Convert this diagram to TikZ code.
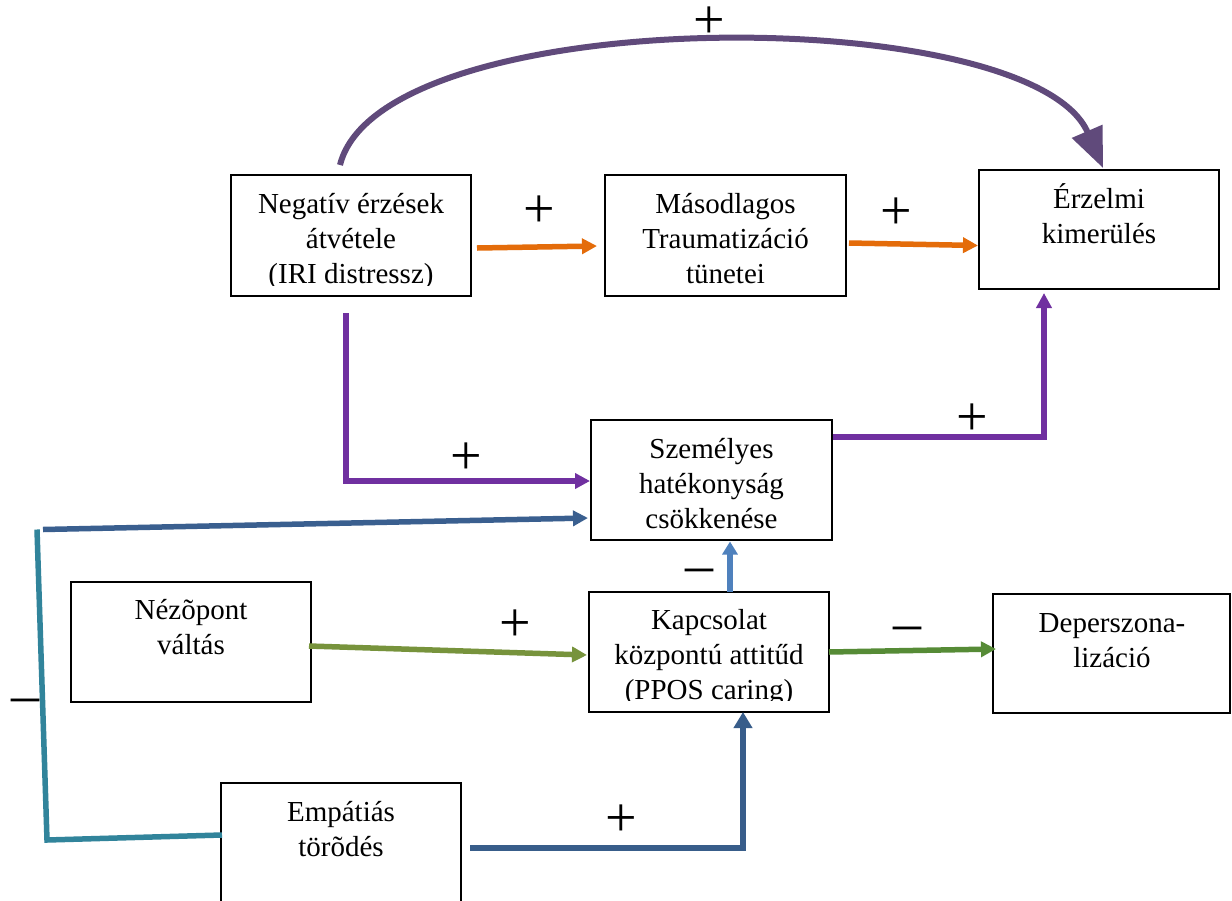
\documentclass[tikz,border=0pt]{standalone}
\usepackage{fontspec}
\setmainfont{Liberation Serif}
\usetikzlibrary{arrows.meta}

\definecolor{arcpurple}{HTML}{604A7B}
\definecolor{floworange}{HTML}{E46C0A}
\definecolor{flowpurple}{HTML}{7030A0}
\definecolor{flowblue}{HTML}{3A5F8F}
\definecolor{flowteal}{HTML}{31849B}
\definecolor{flowlightblue}{HTML}{4F81BD}
\definecolor{flowlightgreen}{HTML}{77933C}
\definecolor{flowgreen}{HTML}{568B36}
\definecolor{flowdarkblue}{HTML}{385D8A}

\tikzset{
  box/.style={draw=black, line width=1.6pt, rectangle, inner sep=0pt, outer sep=0pt},
  boxtext/.style={anchor=base, inner sep=0pt, font=\fontsize{29}{35}\selectfont},
  plusmark/.style={anchor=base, inner sep=0pt, yshift=-14pt, font=\fontsize{56}{60}\selectfont},
  minusmark/.style={anchor=base, inner sep=0pt, yshift=-12.6pt, font=\fontsize{56}{60}\selectfont},
  flow/.style={line width=5.5pt, -{Triangle[length=15pt,width=15pt]}},
}

\newcommand{\boxlines}[1]{\begin{tabular}[t]{@{}c@{}}#1\end{tabular}}

\begin{document}
\begin{tikzpicture}[x=1pt,y=-1pt]
\clip (0,0) rectangle (1232,900);
\fill[white] (0,0) rectangle (1232,900);

% boxes
\node[box, minimum width=240pt, minimum height=121pt] (neg)  at (351,235.5) {};
\node[box, minimum width=241pt, minimum height=121pt] (mas)  at (725.5,235.5) {};
\node[box, minimum width=240pt, minimum height=119pt] (erz)  at (1099,229.5) {};
\node[box, minimum width=241pt, minimum height=120pt] (szem) at (711.5,480) {};
\node[box, minimum width=240pt, minimum height=120pt] (nez)  at (191,642) {};
\node[box, minimum width=240pt, minimum height=120pt] (kap)  at (709,652) {};
\node[box, minimum width=237pt, minimum height=119pt] (dep)  at (1111.5,653.5) {};
\node[box, minimum width=240pt, minimum height=124pt] (emp)  at (341,845) {};

% box texts, cut off at the lower inner edge of each box
\begin{scope}
\clip (neg.north west) rectangle ([yshift=11pt]neg.south east);
\node[boxtext] (negT) at (351,213) {\boxlines{Negatív érzések\\átvétele\\(IRI distressz)}};
\end{scope}
\begin{scope}
\clip (mas.north west) rectangle ([yshift=11pt]mas.south east);
\node[boxtext] (masT) at (725.5,213) {\boxlines{Másodlagos\\Traumatizáció\\tünetei}};
\end{scope}
\node[boxtext] (erzT) at (1099,208) {\boxlines{Érzelmi\\kimerülés}};
\begin{scope}
\clip (szem.north west) rectangle ([yshift=10pt]szem.south east);
\node[boxtext] (szemT) at (711.5,458) {\boxlines{Személyes\\hatékonyság\\csökkenése}};
\end{scope}
\node[boxtext] (nezT) at (191,619) {\boxlines{Nézõpont\\váltás}};
\begin{scope}
\clip (kap.north west) rectangle ([yshift=12pt]kap.south east);
\node[boxtext] (kapT) at (709,629) {\boxlines{Kapcsolat\\központú attitűd\\(PPOS caring)}};
\end{scope}
\node[boxtext] (depT) at (1112,632) {\boxlines{Deperszona-\\lizáció}};
\node[boxtext] (empT) at (341,821) {\boxlines{Empátiás\\törõdés}};

% long arc over the top row
\draw[arcpurple, line width=6pt, -{Triangle[length=40pt,width=32pt]}]
  ([xshift=-11pt,yshift=10pt]neg.north) .. controls (381,1) and (1031,1) ..
  ([xshift=4pt,yshift=2pt]erz.north);

% top row
\draw[flow, floworange] ([xshift=6pt,yshift=-12.5pt]neg.east) -- ([xshift=-8pt,yshift=-10.5pt]mas.west);
\draw[flow, floworange] ([xshift=3pt,yshift=-7.5pt]mas.east) -- ([xshift=-1pt,yshift=-16pt]erz.west);

% purple links through the middle box
\draw[flow, flowpurple, line join=miter] ([xshift=-5pt,yshift=-17pt]neg.south) |- ([xshift=-1pt,yshift=-1pt]szem.west);
\draw[flow, flowpurple, line join=miter] ([xshift=1pt,yshift=43pt]szem.east) -| ([xshift=-55pt,yshift=-4pt]erz.south);

% left loop from the empathy box
\coordinate (junction) at (40,529.5);
\draw[flowteal, line width=5.5pt, line join=miter]
  ([xshift=-3pt]junction) -- ([xshift=-174pt,yshift=5pt]emp.west) -- ([xshift=1pt,yshift=10pt]emp.west);
\draw[flow, flowblue] ([xshift=3pt]junction) -- ([xshift=-3pt,yshift=-38pt]szem.west);

% lower links
\draw[flow, flowlightblue, -{Triangle[length=13pt,width=15pt]}] ([xshift=21pt]kap.north) -- ([xshift=18.5pt,yshift=-1.5pt]szem.south);
\draw[flow, flowlightgreen] ([xshift=-2pt,yshift=-4pt]nez.east) -- ([xshift=-2pt,yshift=-3pt]kap.west);
\draw[flow, flowgreen] (kap.east) -- ([xshift=3pt,yshift=4.5pt]dep.west);
\draw[flowdarkblue, line width=6pt, line join=miter, -{Triangle[length=16pt,width=18pt]}]
  ([xshift=9pt,yshift=-3pt]emp.east) -| ([xshift=34pt]kap.south);

% signs
\node[plusmark] (s1) at (709,24.5) {+};
\node[plusmark] (s2) at (539,213) {+};
\node[plusmark] (s3) at (896,215) {+};
\node[plusmark] (s4) at (466,460) {+};
\node[plusmark] (s5) at (972,421) {+};
\node[plusmark] (s6) at (515,627) {+};
\node[plusmark] (s7) at (621,822) {+};
\node[minusmark] (m1) at (699,571) {\textendash};
\node[minusmark] (m2) at (907,629) {\textendash};
\node[minusmark] (m3) at (25,701) {\textendash};
\end{tikzpicture}
\end{document}
